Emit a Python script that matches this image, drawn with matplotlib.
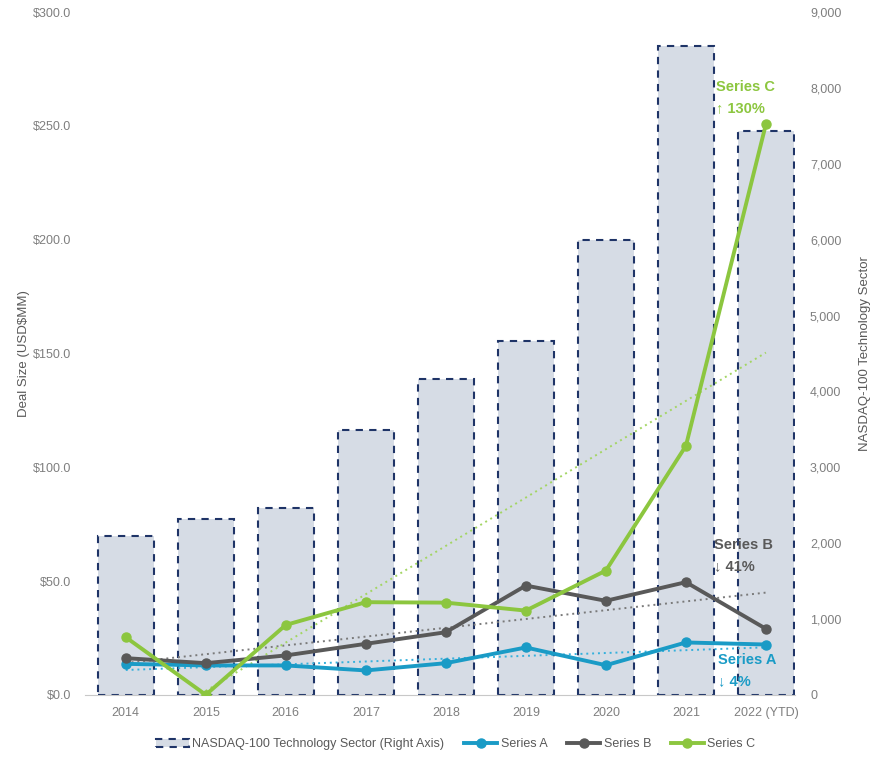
import numpy as np
import matplotlib
matplotlib.use("Agg")
import matplotlib.pyplot as plt
from matplotlib.ticker import FuncFormatter, MultipleLocator

plt.rcParams['font.family'] = ['Liberation Sans', 'DejaVu Sans']

# data
years = ['2014', '2015', '2016', '2017', '2018', '2019', '2020', '2021', '2022 (YTD)']
nasdaq = [2100, 2320, 2460, 3490, 4165, 4665, 5995, 8550, 7430]      # right axis
series_a = [13.6, 12.9, 12.9, 10.7, 13.9, 20.8, 13.0, 23.0, 22.1]   # USD MM
series_b = [16.1, 13.9, 17.3, 22.4, 27.5, 48.0, 41.3, 49.5, 29.0]
series_c = [25.3, 0.0, 30.7, 40.7, 40.5, 37.0, 54.6, 109.4, 250.8]

c_bar = '#d6dce5'
c_edge = '#1f3467'
c_a = '#1a9bc6'
c_b = '#595959'
c_c = '#8cc63f'
c_txt = '#7f7f7f'

x = np.arange(len(years))

fig = plt.figure(figsize=(8.85, 7.61), dpi=100)
ax = fig.add_axes([0.096, 0.087, 0.802, 0.897])
ax2 = ax.twinx()

# bars on the right axis, lines drawn above them
bars = ax2.bar(x, nasdaq, width=0.7, color=c_bar, edgecolor=c_edge,
               linewidth=1.5, linestyle=(0, (3.5, 3)),
               label='NASDAQ-100 Technology Sector (Right Axis)')
ax.set_zorder(ax2.get_zorder() + 1)
ax.patch.set_visible(False)

lines = []
for vals, col, tcol, name in [(series_a, c_a, '#35b0dc', 'Series A'),
                              (series_b, c_b, '#7a7a7a', 'Series B'),
                              (series_c, c_c, '#a3d563', 'Series C')]:
    k, b = np.polyfit(x, vals, 1)
    ax.plot(x, k * x + b, color=tcol, linestyle=(0, (1, 2)), linewidth=1.4, zorder=2)
    ln, = ax.plot(x, vals, color=col, linewidth=2.8, marker='o', markersize=6.5,
                  label=name, zorder=3)
    lines.append(ln)

ax.set_xlim(-0.51, 8.36)
ax.set_ylim(0, 300)
ax2.set_ylim(0, 9000)
ax.yaxis.set_major_locator(MultipleLocator(50))
ax2.yaxis.set_major_locator(MultipleLocator(1000))
ax.yaxis.set_major_formatter(FuncFormatter(lambda v, p: f'${v:.1f}'))
ax2.yaxis.set_major_formatter(FuncFormatter(lambda v, p: f'{int(v):,}'))
ax.set_xticks(x)
ax.set_xticklabels(years)

for a in (ax, ax2):
    for s in a.spines.values():
        s.set_visible(False)
    a.tick_params(length=0, labelsize=9, labelcolor=c_txt)
ax.spines['bottom'].set_visible(True)
ax.spines['bottom'].set_color('#c8c8c8')
ax.tick_params(axis='x', pad=9)
ax.tick_params(axis='y', pad=10)
ax2.tick_params(axis='y', pad=11)

ax.set_ylabel('Deal Size (USD$MM)', fontsize=9.5, color='#595959')
ax2.set_ylabel('NASDAQ-100 Technology Sector', fontsize=9.5, color='#595959')
ax.yaxis.set_label_coords(-0.078, 0.5)
ax2.yaxis.set_label_coords(1.09, 0.5)

# change annotations
ax.text(7.37, 267, 'Series C', color=c_c, fontsize=10.5, fontweight='bold', va='center')
ax.text(7.37, 258, '↑ 130%', color=c_c, fontsize=10.5, fontweight='bold', va='center')
ax.text(7.35, 65.9, 'Series B', color=c_b, fontsize=10.5, fontweight='bold', va='center')
ax.text(7.35, 56.6, '↓ 41%', color=c_b, fontsize=10.5, fontweight='bold', va='center')
ax.text(7.4, 15.4, 'Series A', color=c_a, fontsize=10.5, fontweight='bold', va='center')
ax.text(7.4, 5.8, '↓ 4%', color=c_a, fontsize=10.5, fontweight='bold', va='center')

fig.legend([bars] + lines,
           ['NASDAQ-100 Technology Sector (Right Axis)', 'Series A', 'Series B', 'Series C'],
           loc='center', bbox_to_anchor=(0.515, 0.022), ncol=4, frameon=False,
           fontsize=9, labelcolor='#595959', handlelength=2.6, columnspacing=1.6,
           handletextpad=0.3)

fig.savefig('out.png', dpi=100)
